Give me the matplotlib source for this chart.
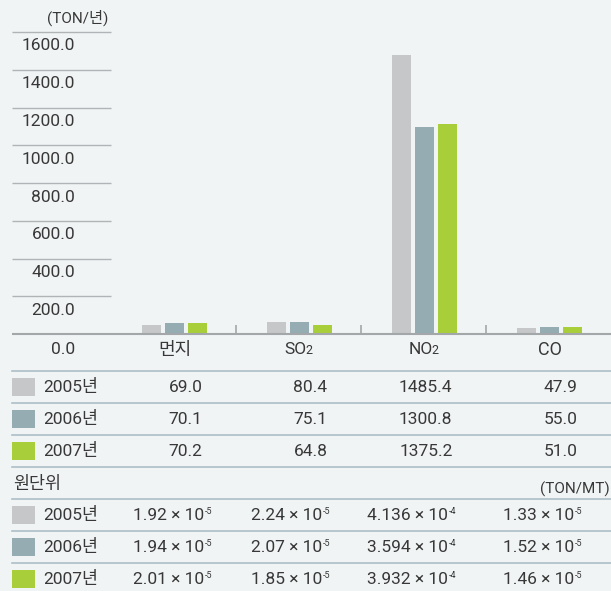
import numpy as np
import matplotlib
matplotlib.use("Agg")
import matplotlib.pyplot as plt
from matplotlib.patches import Rectangle

plt.rcParams['font.family'] = ['Roboto', 'Noto Sans CJK KR']

categories = ["먼지", "SO2", "NO2", "CO"]
years = ["2005년", "2006년", "2007년"]
colors = ["#c6c7c8", "#95acb3", "#a8ce3a"]

# bar heights as drawn in the chart
bar_2005 = [48, 64, 1478, 32]
bar_2006 = [58, 64, 1097, 37]
bar_2007 = [58, 48, 1113, 37]

# table values (TON/년)
emis_2005 = [69.0, 80.4, 1485.4, 47.9]
emis_2006 = [70.1, 75.1, 1300.8, 55.0]
emis_2007 = [70.2, 64.8, 1375.2, 51.0]

# 원단위 (TON/MT) = mantissa x 10^exp
unit_2005 = ["1.92", "2.24", "4.136", "1.33"]
unit_2006 = ["1.94", "2.07", "3.594", "1.52"]
unit_2007 = ["2.01", "1.85", "3.932", "1.46"]
unit_exp = [-5, -5, -4, -5]

yticks = [0, 200, 400, 600, 800, 1000, 1200, 1400, 1600]

bg = "#f1f4f5"
txt = "#383838"
grid_c = "#b1b4b6"
line_c = "#adbfc5"
fs = 12.5

W, H = 611, 591
fig = plt.figure(figsize=(W / 100, H / 100), dpi=100)
fig.patch.set_facecolor(bg)

# bar area: baseline at y=334px, 1600 at y=32px
base, top = 334, 32
ax = fig.add_axes([12 / W, (H - base) / H, (W - 12) / W, (base - top) / H])
ax.set_xlim(-1.292, 3.5)
ax.set_ylim(0, 1600)
ax.axis('off')

x = np.arange(len(categories))
for k, (vals, c) in enumerate(zip([bar_2005, bar_2006, bar_2007], colors)):
    ax.bar(x + (k - 1) * 0.184 + 0.008, vals, width=0.152, color=c, zorder=2)

ax.hlines(yticks[1:], -1.292, -0.5, color=grid_c, lw=1.0, clip_on=False)
ax.hlines(0, -1.292, 3.5, color="#a3a7a9", lw=1.5, clip_on=False, zorder=3)
ax.vlines([0.5, 1.5, 2.5], 0, 47, color="#a3a7a9", lw=1.2)

for v in yticks:
    ax.annotate(f"{v:.1f}", xy=(-0.788, v), xytext=(0, -16 if v == 0 else -14),
                textcoords='offset pixels', ha='right', va='center',
                fontsize=fs, color=txt)

for i, cat in enumerate(categories):
    if cat[-1].isdigit():
        t = ax.annotate(cat[:-1], xy=(i, 0), xytext=(-3, -16),
                        textcoords='offset pixels', ha='center', va='center',
                        fontsize=fs, color=txt)
        ax.annotate(cat[-1], xy=(1, 0), xycoords=t, xytext=(-1, 1),
                    textcoords='offset pixels', ha='left', va='bottom',
                    fontsize=9, color=txt)
    else:
        ax.annotate(cat, xy=(i, 0), xytext=(1, -16), textcoords='offset pixels',
                    ha='center', va='center', fontsize=fs + 0.5, color=txt)

# overlay in pixel coordinates for the tables
ax0 = fig.add_axes([0, 0, 1, 1])
ax0.set_xlim(0, W)
ax0.set_ylim(H, 0)
ax0.axis('off')

ax0.text(108, 18, "(TON/년)", ha='right', va='center', fontsize=11, color=txt)

for y in [371, 403, 435, 467, 499, 531, 563]:
    ax0.plot([12, 611], [y, y], color=line_c, lw=1.2)

cell_c = [111 + 125 * i + 62.5 for i in range(4)]

for yc, yr, c, vals in zip([387, 419, 451], years, colors,
                           [emis_2005, emis_2006, emis_2007]):
    ax0.add_patch(Rectangle((12, yc - 9), 23, 18, color=c, lw=0))
    ax0.text(43, yc, yr, ha='left', va='center', fontsize=fs, color=txt)
    for cx, v in zip(cell_c, vals):
        ax0.text(cx + 29, yc, f"{v:.1f}", ha='right', va='center',
                 fontsize=fs, color=txt)

ax0.text(13, 484, "원단위", ha='left', va='center', fontsize=fs, color=txt)
ax0.text(610, 489, "(TON/MT)", ha='right', va='center', fontsize=11, color=txt)

unit_x = [133, 251, 367, 503]
for yc, yr, c, vals in zip([515, 547, 579], years, colors,
                           [unit_2005, unit_2006, unit_2007]):
    ax0.add_patch(Rectangle((12, yc - 9), 23, 18, color=c, lw=0))
    ax0.text(43, yc, yr, ha='left', va='center', fontsize=fs, color=txt)
    for ux, m, e in zip(unit_x, vals, unit_exp):
        t = ax0.text(ux, yc, f"{m} × 10", ha='left', va='center',
                     fontsize=fs, color=txt)
        ax0.annotate(f"{e}", xy=(1, 1), xycoords=t, xytext=(1, 1),
                     textcoords='offset pixels', ha='left', va='top',
                     fontsize=6.5, color=txt)

fig.savefig("out.png", dpi=100, facecolor=bg)
